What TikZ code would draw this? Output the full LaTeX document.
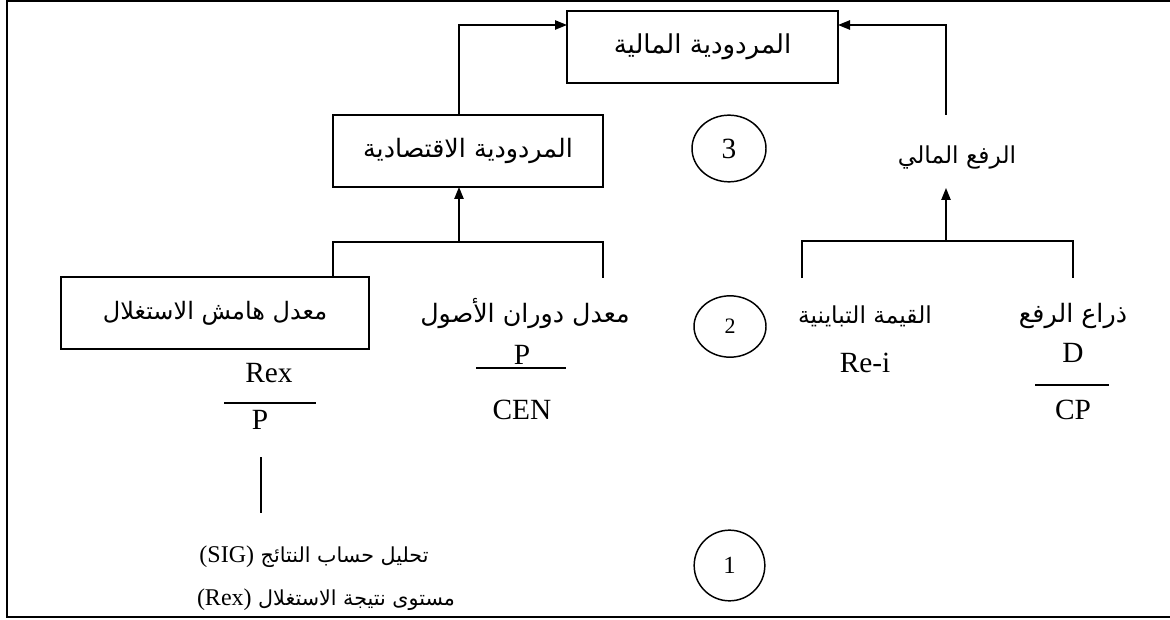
\documentclass[tikz,border=0pt]{standalone}
\usepackage{fontspec}
\setmainfont{Liberation Serif}
\newfontfamily\arabicfont[Script=Arabic]{DejaVu Sans}
\TeXXeTstate=1
\usetikzlibrary{shapes.geometric,arrows.meta,positioning}

\tikzset{
  box/.style={draw, line width=1.1pt, inner sep=0pt},
  ar/.style={font=\arabicfont\fontsize{#1}{#1}\selectfont, inner sep=0pt},
  lat/.style={font=\fontsize{22}{24}\selectfont, inner sep=0pt},
  num/.style={draw, ellipse, line width=1.1pt, inner sep=0pt},
  link/.style={line width=1.1pt},
  arr/.style={line width=1.1pt, -{Triangle[length=9pt,width=7pt]}}
}
\newcommand{\latpart}[1]{\beginL{\rmfamily\fontsize{18}{20}\selectfont #1}\endL}

\begin{document}
\begin{tikzpicture}[x=0.75pt, y=-0.75pt]
  \useasboundingbox (0,0) rectangle (1170,620);
  \draw[line width=1.5pt] (1170,1.5) -- (7,1.5) -- (7,617) -- (1170,617);

  % level 3
  \node[box, ar=19.5, minimum width=203pt, minimum height=54pt] (fin) at (702.5,47) {\beginR المردودية المالية\endR};
  \node[box, ar=19, minimum width=202.5pt, minimum height=54pt] (eco) at (468,151) {\beginR المردودية الاقتصادية\endR};
  \node[ar=17.5] (lev) at (957,157) {\beginR الرفع المالي\endR};
  \node[num, minimum width=55.5pt, minimum height=50pt, font=\fontsize{22}{24}\selectfont] (n3) at (729,148.5) {3};

  % level 2
  \node[box, ar=18, minimum width=231pt, minimum height=54pt] (mar) at (215,313) {\beginR معدل هامش الاستغلال\endR};
  \node[ar=19] (tur) at (525,314) {\beginR معدل دوران الأصول\endR};
  \node[ar=17.5] (gap) at (865,316) {\beginR القيمة التباينية\endR};
  \node[ar=19] (arm) at (1073,316) {\beginR ذراع الرفع\endR};
  \node[num, minimum width=54pt, minimum height=46pt, font=\fontsize{16.5}{18}\selectfont] (n2) at (730,326.5) {2};

  % ratios
  \node[lat] (rex) at (269,373) {Rex};
  \node[lat] (rexp) at (260,420) {P};
  \node[lat] (turp) at (522,355) {P};
  \node[lat] (cen) at (522,410) {CEN};
  \node[lat] (rei) at (865,363) {Re-i};
  \node[lat] (d) at (1073,353) {D};
  \node[lat] (cp) at (1073,410) {CP};
  \draw[link] (224,403) -- (316,403);
  \draw[link] (476,368) -- (566,368);
  \draw[link] (1035,385) -- (1109,385);

  % level 1
  \node[ar=15.5] (sig) at (314,557) {\beginR تحليل حساب النتائج \latpart{(SIG)}\endR};
  \node[ar=15.5] (res) at (326,600) {\beginR مستوى نتيجة الاستغلال \latpart{(Rex)}\endR};
  \node[num, minimum width=53pt, minimum height=53pt, font=\fontsize{18.5}{20}\selectfont] (n1) at (729.5,565.5) {1};

  % connectors
  \coordinate (finL) at (567,25);
  \coordinate (finR) at (838,25);
  \coordinate (ecoT) at (459,115);
  \coordinate (ecoB) at (459,187);
  \coordinate (levT) at (946,115);
  \coordinate (levB) at (946,188);
  \coordinate (jL) at (459,242);
  \coordinate (jR) at (946,241);
  \coordinate (marT) at (333,277);
  \coordinate (turT) at (603,278);
  \coordinate (gapT) at (802,278);
  \coordinate (armT) at (1073,278);
  \coordinate (pT) at (261,457);
  \coordinate (pB) at (261,513);

  \draw[arr] (ecoT) |- (finL);
  \draw[arr] (levT) |- (finR);
  \draw[arr] (jL) -- (ecoB);
  \draw[arr] (jR) -- (levB);
  \draw[link] (marT) |- (jL) -| (turT);
  \draw[link] (gapT) |- (jR) -| (armT);
  \draw[link] (pT) -- (pB);
\end{tikzpicture}
\end{document}
